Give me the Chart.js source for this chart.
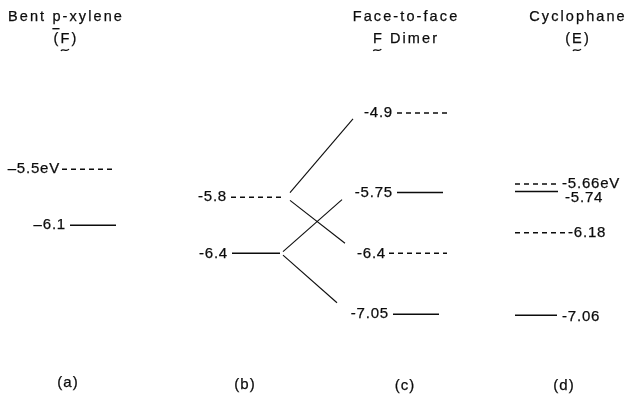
<!DOCTYPE html>
<html>
<head>
<meta charset="utf-8">
<script src="https://cdn.jsdelivr.net/npm/chart.js@4/dist/chart.umd.min.js"></script>
<style>
  html, body { margin: 0; padding: 0; background: #fff; }
  #wrap { width: 628px; height: 402px; position: relative; }
</style>
</head>
<body>
<div id="wrap"><canvas id="diagram"></canvas></div>
<script>
// Orbital energy levels (eV) of the four systems
const columnNames = ['(a)', '(b)', '(c)', '(d)'];
const titleTop = ['Bent p-xylene', '', 'Face-to-face', 'Cyclophane'];
const titleBottom = ['(F)', '', 'F Dimer', '(E)'];

const levelsA = [-5.5, -6.1];
const levelsB = [-5.8, -6.4];
const levelsC = [-4.9, -5.75, -6.4, -7.05];
const levelsD = [-5.66, -5.74, -6.18, -7.06];

const labelsA = ['\u20135.5eV', '\u20136.1'];
const labelsB = ['-5.8', '-6.4'];
const labelsC = ['-4.9', '-5.75', '-6.4', '-7.05'];
const labelsD = ['-5.66eV', '-5.74', '-6.18', '-7.06'];

// dashed = unoccupied-type level, solid = occupied-type level
const dashedA = [true, false];
const dashedB = [true, false];
const dashedC = [true, false, true, false];
const dashedD = [true, false, true, false];

// splitting of the (b) levels into the (c) dimer levels: [from B index, to C index]
const splitFrom = [0, 0, 1, 1];
const splitTo = [0, 2, 1, 3];

// ---- layout (x in canvas pixels, the x scale runs 0..628) ----
const layout = {
  A: { x0: [62, 70], x1: [116, 116], labelX: [60, 66], align: 'right', dy: [0, 0] },
  B: { x0: [231, 232], x1: [283, 280], labelX: [227, 228], align: 'right', dy: [0, 0] },
  C: { x0: [397, 397, 389, 393], x1: [447, 443, 447, 439], labelX: [393, 393, 386, 389], align: 'right', dy: [0, 0, 0, 0] },
  D: { x0: [515, 515, 515, 515], x1: [560, 558, 565, 557], labelX: [562, 565, 568, 562], align: 'left', dy: [0, 6, 0, 2] },
  // connector: anchor x at the (b) side, anchor x at the (c) side, visible start/end x
  split: { bx: [286, 286, 281, 281], cx: [358, 358, 350, 350], xs: [290, 290, 283, 283], xe: [353, 345, 342, 337] },
  titleX: [66, 0, 406, 578],
  titleY: [17, 39],
  nameX: [68, 245, 405, 564],
  nameY: [383, 385, 386, 386]
};

const INK = '#0c0c0c';
const levelSets = [
  { E: levelsA, L: labelsA, D: dashedA, G: layout.A },
  { E: levelsB, L: labelsB, D: dashedB, G: layout.B },
  { E: levelsC, L: labelsC, D: dashedC, G: layout.C },
  { E: levelsD, L: labelsD, D: dashedD, G: layout.D }
];

const datasets = [];
levelSets.forEach(set => {
  set.E.forEach((e, i) => {
    datasets.push({
      data: [{ x: set.G.x0[i], y: e }, { x: set.G.x1[i], y: e }],
      borderColor: INK,
      borderWidth: 1.5,
      borderDash: set.D[i] ? [5, 4] : [],
      showLine: true,
      pointRadius: 0,
      tension: 0
    });
  });
});

// correlation lines between the monomer (b) and dimer (c) levels
splitFrom.forEach((bi, k) => {
  const eb = levelsB[bi], ec = levelsC[splitTo[k]];
  const s = layout.split;
  const at = x => eb + (ec - eb) * (x - s.bx[k]) / (s.cx[k] - s.bx[k]);
  datasets.push({
    data: [{ x: s.xs[k], y: at(s.xs[k]) }, { x: s.xe[k], y: at(s.xe[k]) }],
    borderColor: INK,
    borderWidth: 1.1,
    showLine: true,
    pointRadius: 0,
    tension: 0
  });
});

const FONT = '"Liberation Sans", Arial, sans-serif';
const TEXT_STROKE = 0.25;

function tilde(ctx, cx, y, w) {
  ctx.save();
  ctx.beginPath();
  ctx.moveTo(cx - w / 2, y + 1);
  ctx.bezierCurveTo(cx - w / 4, y - 2.5, cx + w / 6, y + 3, cx + w / 2, y - 1);
  ctx.lineWidth = 1.2;
  ctx.strokeStyle = INK;
  ctx.stroke();
  ctx.restore();
}

// text drawn with a hairline stroke so it reads as dark as the line work
function ink(ctx, t, x, y) {
  ctx.lineWidth = TEXT_STROKE;
  ctx.fillText(t, x, y);
  ctx.strokeText(t, x, y);
}

const textPlugin = {
  id: 'levelText',
  afterDraw(chart) {
    const ctx = chart.ctx;
    const ys = chart.scales.y;
    ctx.save();
    ctx.fillStyle = INK;
    ctx.strokeStyle = INK;
    ctx.textBaseline = 'middle';

    // level labels
    ctx.font = '15px ' + FONT;
    ctx.letterSpacing = '0.8px';
    levelSets.forEach(set => {
      ctx.textAlign = set.G.align;
      set.E.forEach((e, i) => {
        ink(ctx, set.L[i], set.G.labelX[i], ys.getPixelForValue(e) + set.G.dy[i]);
      });
    });

    // column titles
    ctx.font = '14.5px ' + FONT;
    ctx.letterSpacing = '2.1px';
    ctx.textAlign = 'center';
    titleTop.forEach((t, i) => {
      if (!t) return;
      ink(ctx, t, layout.titleX[i], layout.titleY[0]);
    });
    titleBottom.forEach((t, i) => {
      if (!t) return;
      ink(ctx, t, layout.titleX[i], layout.titleY[1]);
    });

    // underline under "p" of p-xylene
    const full = ctx.measureText(titleTop[0]).width;
    const left = layout.titleX[0] - full / 2;
    const pre = ctx.measureText('Bent ').width;
    const pw = ctx.measureText('p').width - 3;
    ctx.fillRect(left + pre, layout.titleY[0] + 11, pw, 1.4);

    // wavy marks under the structure letters
    [[0, '('], [2, ''], [3, '(']].forEach(([i, pre2]) => {
      const t = titleBottom[i];
      const w = ctx.measureText(t).width;
      const l = layout.titleX[i] - w / 2;
      const a = ctx.measureText(pre2).width;
      const fw = ctx.measureText(t.charAt(pre2.length)).width - 2.1;
      tilde(ctx, l + a + fw / 2, layout.titleY[1] + 11, 8);
    });

    // system letters along the bottom
    ctx.font = '15px ' + FONT;
    ctx.letterSpacing = '1px';
    ctx.textAlign = 'center';
    columnNames.forEach((n, i) => ink(ctx, n, layout.nameX[i], layout.nameY[i]));
    ctx.restore();
  }
};

new Chart(document.getElementById('diagram'), {
  type: 'scatter',
  data: { datasets },
  options: {
    responsive: true,
    maintainAspectRatio: false,
    devicePixelRatio: 1,
    animation: false,
    layout: { padding: 0 },
    plugins: { legend: { display: false }, tooltip: { enabled: false } },
    scales: {
      x: { type: 'linear', min: 0, max: 628, display: false },
      y: { type: 'linear', min: -7.988, max: -3.693, display: false }
    }
  },
  plugins: [textPlugin]
});
</script>
</body>
</html>
